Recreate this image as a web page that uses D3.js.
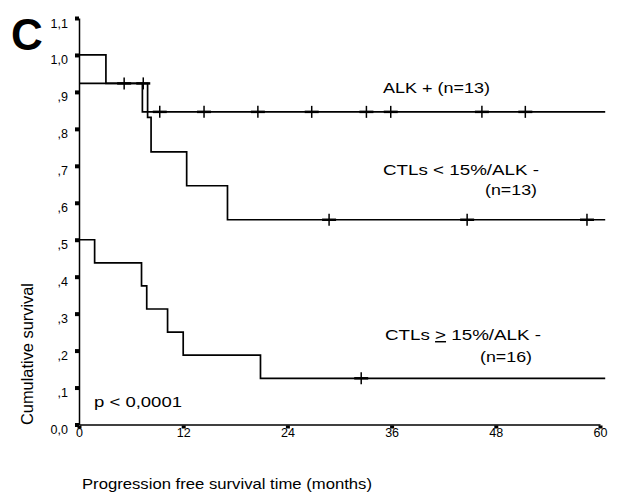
<!DOCTYPE html>
<html>
<head>
<meta charset="utf-8">
<script src="https://cdnjs.cloudflare.com/ajax/libs/d3/7.8.5/d3.min.js"></script>
<style>
  body { margin: 0; background: #fff; }
  svg text { font-family: "Liberation Sans", Arial, Helvetica, sans-serif; fill: #000; }
</style>
</head>
<body>
<svg id="chart" width="618" height="494"></svg>
<script>
// Kaplan-Meier steps (months, cumulative survival)
const alkTimes = [0, 3.1, 7.3];
const alkSurv = [1.0, 0.923, 0.846];
const alkCensored = [9.3, 14.4, 20.6, 26.8, 33.1, 35.9, 46.4, 51.4];

const lowTimes = [0, 7.9, 8.3, 12.4, 17.1];
const lowSurv = [0.923, 0.831, 0.738, 0.646, 0.554];
const lowCensored = [5.2, 7.4, 28.8, 44.7, 58.5];

const highTimes = [0, 1.8, 7.2, 7.8, 10.2, 12.0, 20.9];
const highSurv = [0.5, 0.4375, 0.375, 0.3125, 0.25, 0.1875, 0.125];
const highCensored = [32.5];

const followUpEnd = 60.6;

const xTicks = [0, 12, 24, 36, 48, 60];
const yTicks = [0, 0.1, 0.2, 0.3, 0.4, 0.5, 0.6, 0.7, 0.8, 0.9, 1.0, 1.1];
const yTickLabels = ['0,0', ',1', ',2', ',3', ',4', ',5', ',6', ',7', ',8', ',9', '1,0', '1,1'];

const svg = d3.select('#chart');

const x = d3.scaleLinear().domain([0, 60]).range([79, 600]);
const y = d3.scaleLinear().domain([0, 1.1]).range([424.5, 18]);

// y axis
const yAxis = d3.axisLeft(y)
  .tickValues(yTicks)
  .tickSize(4)
  .tickSizeOuter(0)
  .tickPadding(7)
  .tickFormat((d, i) => yTickLabels[i]);

const gy = svg.append('g')
  .attr('transform', `translate(${x(0)}, 0)`)
  .call(yAxis);
gy.select('.domain').attr('stroke-width', 1.5);
gy.selectAll('.tick line').attr('stroke-width', 4);
gy.selectAll('.tick text')
  .attr('font-size', 12.5)
  .attr('dy', '0.72em')
  .attr('y', 0);

// x axis
const xAxis = d3.axisBottom(x)
  .tickValues(xTicks)
  .tickSize(3)
  .tickSizeOuter(0)
  .tickPadding(0);

const gx = svg.append('g')
  .attr('transform', `translate(0, ${y(0)})`)
  .call(xAxis);
gx.select('.domain').attr('stroke-width', 1.5);
gx.selectAll('.tick line').attr('stroke-width', 4).attr('y1', 1).attr('y2', 4);
gx.selectAll('.tick text')
  .attr('font-size', 12.5)
  .attr('y', 4);

// survival curves
const line = d3.line()
  .x(d => x(d[0]))
  .y(d => y(d[1]))
  .curve(d3.curveStepAfter);

function stepValue(times, surv, t) {
  let v = surv[0];
  times.forEach((tt, i) => { if (tt <= t) v = surv[i]; });
  return v;
}

const groups = [
  {times: alkTimes, surv: alkSurv, censored: alkCensored},
  {times: lowTimes, surv: lowSurv, censored: lowCensored},
  {times: highTimes, surv: highSurv, censored: highCensored}
];

groups.forEach(g => {
  const pts = g.times.map((t, i) => [t, g.surv[i]]);
  pts.push([followUpEnd, g.surv[g.surv.length - 1]]);

  svg.append('path')
    .datum(pts)
    .attr('fill', 'none')
    .attr('stroke', '#000')
    .attr('stroke-width', 1.7)
    .attr('d', line);

  const marks = svg.append('g')
    .selectAll('g')
    .data(g.censored)
    .enter()
    .append('g')
    .attr('transform', d => `translate(${x(d)}, ${y(stepValue(g.times, g.surv, d))})`);

  marks.append('line')
    .attr('x1', 0).attr('x2', 0)
    .attr('y1', -6).attr('y2', 6)
    .attr('stroke', '#000')
    .attr('stroke-width', 1.5);

  marks.append('line')
    .attr('x1', -7).attr('x2', 7)
    .attr('y1', 0).attr('y2', 0)
    .attr('stroke', '#000')
    .attr('stroke-width', 2.5);
});

// texts
function label(txt, px, py, size, len) {
  const t = svg.append('text')
    .attr('x', px)
    .attr('y', py)
    .attr('font-size', size)
    .text(txt);
  if (len) t.attr('textLength', len).attr('lengthAdjust', 'spacingAndGlyphs');
  return t;
}

svg.append('text')
  .attr('x', 11)
  .attr('y', 50)
  .attr('font-size', 44)
  .attr('font-weight', 'bold')
  .text('C');

label('ALK + (n=13)', 383, 93, 14.5, 107);
label('CTLs < 15%/ALK -', 383, 175, 14.5, 156);
label('(n=13)', 485, 195, 14.5, 52);

const ge = svg.append('text')
  .attr('x', 385)
  .attr('y', 340)
  .attr('font-size', 14.5)
  .attr('textLength', 156)
  .attr('lengthAdjust', 'spacingAndGlyphs');
ge.append('tspan').text('CTLs ');
ge.append('tspan').attr('text-decoration', 'underline').text('>');
ge.append('tspan').text(' 15%/ALK -');
label('(n=16)', 480, 362, 14.5, 52);

label('p < 0,0001', 94, 407, 15, 88);
label('Progression free survival time (months)', 82, 489, 14.5, 290);

svg.append('text')
  .attr('transform', 'translate(33, 425) rotate(-90)')
  .attr('font-size', 16)
  .attr('textLength', 142)
  .attr('lengthAdjust', 'spacingAndGlyphs')
  .text('Cumulative survival');
</script>
</body>
</html>
